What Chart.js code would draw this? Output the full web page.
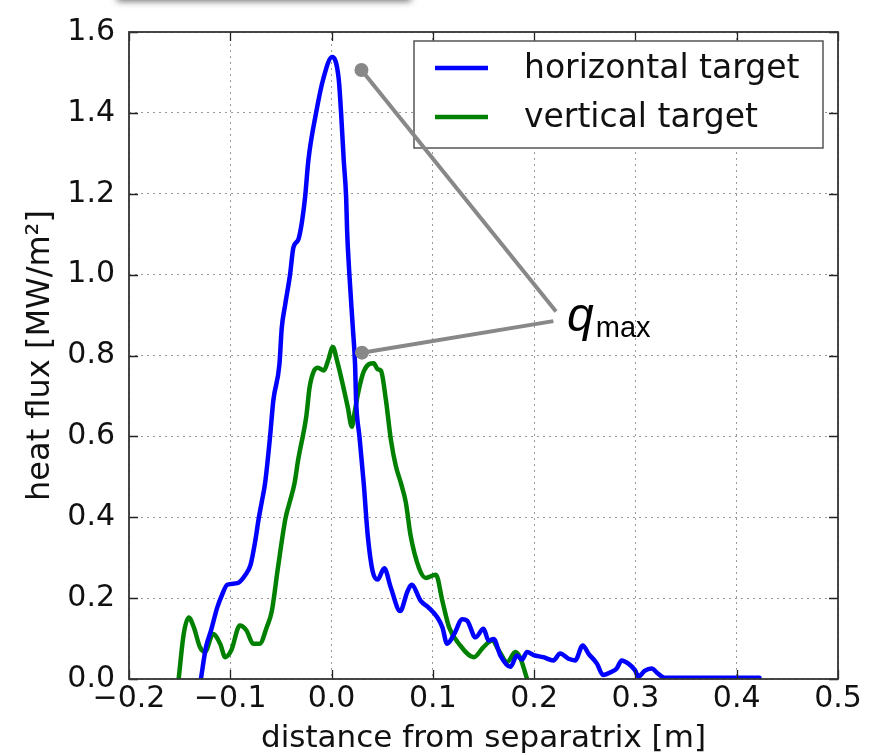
<!DOCTYPE html>
<html>
<head>
<meta charset="utf-8">
<script src="https://cdn.jsdelivr.net/npm/chart.js@4.4.1/dist/chart.umd.min.js"></script>
<style>
  html, body { margin: 0; padding: 0; background: #fff; overflow: hidden; }
  #wrap { position: relative; width: 892px; height: 755px; }
  #shade { position: absolute; left: 117px; top: -40px; width: 294px; height: 40px; background: #fff; box-shadow: 0 1px 7px rgba(0,0,0,0.6); }
</style>
</head>
<body>
<div id="wrap">
  <canvas id="chart" width="892" height="755"></canvas>
  <div id="shade"></div>
</div>
<script>
// values
const horizontalDist = [-0.129, -0.124, -0.119, -0.113, -0.108, -0.103, -0.093, -0.085, -0.080, -0.0755, -0.072, -0.069,
  -0.0656, -0.0607, -0.0575, -0.0515, -0.0492, -0.0459, -0.041, -0.0377, -0.0328, -0.0294, -0.0262, -0.0229, -0.0153, -0.0081,
  0.0005, 0.007, 0.0094, 0.012, 0.0144, 0.0153, 0.0176, 0.021, 0.0232, 0.0242, 0.0275, 0.0317, 0.0357, 0.0406, 0.0455,
  0.052, 0.0586, 0.0677, 0.075, 0.079, 0.088, 0.096, 0.1045, 0.1094, 0.114, 0.121, 0.129, 0.134, 0.142, 0.150, 0.155,
  0.160, 0.1667, 0.1766, 0.183, 0.188, 0.193, 0.1995, 0.209, 0.219, 0.2257, 0.234, 0.2405, 0.248, 0.2536, 0.262, 0.268,
  0.2766, 0.2815, 0.2864, 0.293, 0.2995, 0.303, 0.309, 0.316, 0.322, 0.329, 0.4225];
const horizontalFlux = [0, 0.079, 0.12, 0.176, 0.209, 0.233, 0.237, 0.258, 0.282, 0.339, 0.396, 0.437,
  0.485, 0.60, 0.689, 0.778, 0.868, 0.924, 1.0, 1.067, 1.087, 1.128, 1.19, 1.283, 1.40, 1.485,
  1.538, 1.485, 1.40, 1.283, 1.19, 1.112, 1.0, 0.868, 0.778, 0.689, 0.60, 0.485, 0.355, 0.266, 0.246,
  0.274, 0.225, 0.168, 0.217, 0.233, 0.193, 0.176, 0.152, 0.128, 0.087, 0.111, 0.148, 0.144, 0.103, 0.124, 0.095,
  0.099, 0.058, 0.030, 0.058, 0.048, 0.067, 0.059, 0.054, 0.046, 0.063, 0.050, 0.046, 0.083, 0.063, 0.038, 0.010,
  0.018, 0.026, 0.046, 0.038, 0.022, 0.006, 0.020, 0.026, 0.014, 0.003, 0.003];

const verticalDist = [-0.151, -0.146, -0.141, -0.136, -0.130, -0.125, -0.117, -0.110, -0.105, -0.099, -0.0906, -0.084,
  -0.0774, -0.071, -0.064, -0.059, -0.053, -0.0456, -0.0414, -0.0365, -0.033, -0.025, -0.0217, -0.0174, -0.0135,
  -0.0076, -0.0036, 0.0013, 0.0055, 0.011, 0.016, 0.020, 0.0225, 0.026, 0.032, 0.0416, 0.0455, 0.0488, 0.0537,
  0.0586, 0.0635, 0.0684, 0.0733, 0.078, 0.0864, 0.093, 0.103, 0.1094, 0.116, 0.1258, 0.1405, 0.150, 0.1586, 0.165,
  0.1733, 0.1815, 0.186, 0.193];
const verticalFlux = [0, 0.111, 0.152, 0.128, 0.079, 0.067, 0.111, 0.087, 0.054, 0.071, 0.132, 0.12,
  0.087, 0.087, 0.128, 0.168, 0.274, 0.396, 0.437, 0.485, 0.542, 0.649, 0.721, 0.762, 0.770,
  0.763, 0.786, 0.821, 0.786, 0.729, 0.672, 0.624, 0.656, 0.705, 0.762, 0.781, 0.766, 0.762, 0.689,
  0.591, 0.526, 0.485, 0.437, 0.355, 0.274, 0.250, 0.258, 0.193, 0.128, 0.087, 0.054, 0.079, 0.095, 0.071,
  0.042, 0.067, 0.054, 0];

const seriesLabels = ["horizontal target", "vertical target"];
const xTicks = [-0.2, -0.1, 0.0, 0.1, 0.2, 0.3, 0.4, 0.5];
const yTicks = [0, 0.2, 0.4, 0.6, 0.8, 1.0, 1.2, 1.4, 1.6];

// q_max markers and where their leader lines end (data units)
const qmaxDots = [[0.0295, 1.506], [0.030, 0.807]];
const qmaxEnds = [[0.2216, 0.909], [0.219, 0.885]];
const qmaxText = [0.2335, 0.845];

function pairs(xs, ys) {
  return xs.map(function (v, i) { return { x: v, y: ys[i] }; });
}

function fmt(v) {
  if (Math.abs(v) < 1e-9) v = 0;
  return v.toFixed(1).replace("-", "\u2212");
}

const TICK_FONT = { family: "DejaVu Sans", size: 30 };

const framePlugin = {
  id: "frame",
  afterDraw(chart) {
    const ctx = chart.ctx, a = chart.chartArea;
    const xs = chart.scales.x, ys = chart.scales.y;
    ctx.save();
    // inward ticks
    ctx.strokeStyle = "#222";
    ctx.lineWidth = 1.3;
    ctx.beginPath();
    xTicks.forEach(function (v) {
      const px = Math.round(xs.getPixelForValue(v)) + 0.5;
      ctx.moveTo(px, a.bottom); ctx.lineTo(px, a.bottom - 9);
      ctx.moveTo(px, a.top); ctx.lineTo(px, a.top + 9);
    });
    yTicks.forEach(function (v) {
      const py = Math.round(ys.getPixelForValue(v)) + 0.5;
      ctx.moveTo(a.left, py); ctx.lineTo(a.left + 9, py);
      ctx.moveTo(a.right, py); ctx.lineTo(a.right - 9, py);
    });
    ctx.stroke();
    ctx.strokeStyle = "#333";
    ctx.lineWidth = 1.8;
    ctx.strokeRect(a.left, a.top, a.right - a.left, a.bottom - a.top);

    // legend
    const lx = 414, ly = 41, lw = 409, lh = 107;
    ctx.fillStyle = "#fff";
    ctx.fillRect(lx, ly, lw, lh);
    ctx.strokeStyle = "#555";
    ctx.lineWidth = 1.5;
    ctx.strokeRect(lx, ly, lw, lh);
    ctx.font = "33px 'DejaVu Sans'";
    ctx.textBaseline = "middle";
    ctx.textAlign = "left";
    chart.data.datasets.forEach(function (ds, i) {
      const y = 68 + i * 49;
      ctx.strokeStyle = ds.borderColor;
      ctx.lineWidth = 4.5;
      ctx.beginPath();
      ctx.moveTo(435, y); ctx.lineTo(488, y);
      ctx.stroke();
      ctx.fillStyle = "#111";
      ctx.fillText(ds.label, 524, y + 1);
    });

    // q_max annotation
    ctx.strokeStyle = "#888";
    ctx.fillStyle = "#888";
    ctx.lineWidth = 4;
    qmaxDots.forEach(function (d, i) {
      const x0 = xs.getPixelForValue(d[0]), y0 = ys.getPixelForValue(d[1]);
      const x1 = xs.getPixelForValue(qmaxEnds[i][0]), y1 = ys.getPixelForValue(qmaxEnds[i][1]);
      ctx.beginPath();
      ctx.moveTo(x0, y0); ctx.lineTo(x1, y1);
      ctx.stroke();
      ctx.beginPath();
      ctx.arc(x0, y0, 7, 0, Math.PI * 2);
      ctx.fill();
    });
    const tx = xs.getPixelForValue(qmaxText[0]), ty = ys.getPixelForValue(qmaxText[1]);
    ctx.fillStyle = "#000";
    ctx.textBaseline = "alphabetic";
    ctx.font = "italic 48px 'Liberation Sans'";
    ctx.fillText("q", tx - 1, ty - 6);
    const qw = ctx.measureText("q").width;
    ctx.font = "29px 'Liberation Sans'";
    ctx.fillText("max", tx + qw + 1, ty);
    ctx.restore();
  }
};

const ctx = document.getElementById("chart").getContext("2d");
const lineStyle = {
  borderWidth: 4.5,
  showLine: true,
  pointRadius: 0,
  cubicInterpolationMode: "monotone",
  borderJoinStyle: "round",
  borderCapStyle: "round",
};
const myChart = new Chart(ctx, {
  type: "scatter",
  data: {
    datasets: [
      Object.assign({
        label: seriesLabels[0],
        data: pairs(horizontalDist, horizontalFlux),
        borderColor: "#0000ff",
        backgroundColor: "#0000ff",
      }, lineStyle),
      Object.assign({
        label: seriesLabels[1],
        data: pairs(verticalDist, verticalFlux),
        borderColor: "#008000",
        backgroundColor: "#008000",
      }, lineStyle),
    ],
  },
  options: {
    responsive: false,
    animation: false,
    events: [],
    layout: { padding: { top: 22, right: 54, left: 0, bottom: 0 } },
    plugins: { legend: { display: false }, tooltip: { enabled: false } },
    scales: {
      x: {
        type: "linear",
        min: -0.2,
        max: 0.5,
        afterBuildTicks: function (scale) { scale.ticks = xTicks.map(function (v) { return { value: v }; }); },
        afterFit: function (scale) { scale.height = 76; },
        ticks: { font: TICK_FONT, color: "#111", padding: 2, maxRotation: 0, callback: fmt },
        grid: { color: "rgba(0,0,0,0.4)", lineWidth: 1, drawTicks: false },
        border: { display: false, dash: [2, 4] },
        title: { display: true, text: "distance from separatrix [m]", font: { family: "DejaVu Sans", size: 31 }, color: "#111", padding: { top: 0, bottom: -3 } },
      },
      y: {
        type: "linear",
        min: 0,
        max: 1.6,
        afterBuildTicks: function (scale) { scale.ticks = yTicks.map(function (v) { return { value: v }; }); },
        afterFit: function (scale) { scale.width = 129; },
        ticks: { font: TICK_FONT, color: "#111", padding: 14, callback: fmt },
        grid: { color: "rgba(0,0,0,0.4)", lineWidth: 1, drawTicks: false },
        border: { display: false, dash: [2, 4] },
        title: { display: true, text: "heat flux [MW/m\u00b2]", font: { family: "DejaVu Sans", size: 32 }, color: "#111", padding: { top: 21, bottom: 0 } },
      },
    },
  },
  plugins: [framePlugin],
});
</script>
</body>
</html>
